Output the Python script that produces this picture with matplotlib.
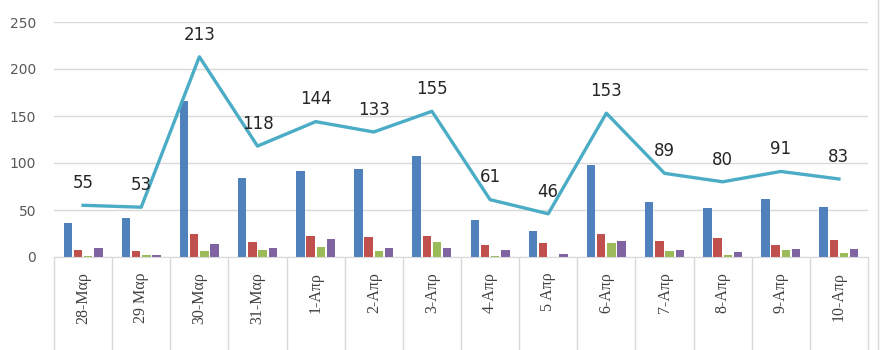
import matplotlib
matplotlib.use("Agg")
import matplotlib.pyplot as plt
import numpy as np
from matplotlib.lines import Line2D

# Ημερομηνίες και τιμές
dates = ["28-Μαρ", "29 Μαρ", "30-Μαρ", "31-Μαρ", "1-Απρ", "2-Απρ", "3-Απρ",
         "4-Απρ", "5 Απρ", "6-Απρ", "7-Απρ", "8-Απρ", "9-Απρ", "10-Απρ"]
blue = [36, 42, 166, 84, 91, 94, 107, 39, 28, 98, 59, 52, 62, 53]
red = [7, 6, 25, 16, 22, 21, 22, 13, 15, 24, 17, 20, 13, 18]
green = [1, 2, 6, 7, 11, 6, 16, 1, 0, 15, 6, 2, 7, 4]
purple = [10, 2, 14, 10, 19, 10, 10, 7, 3, 17, 7, 5, 9, 8]
total = [55, 53, 213, 118, 144, 133, 155, 61, 46, 153, 89, 80, 91, 83]

colors = ["#4F81BD", "#C0504D", "#9BBB59", "#8064A2"]
line_color = "#4BACC6"

fig = plt.figure(figsize=(8.8, 3.5), dpi=100)
ax = fig.add_axes([54 / 880, 93 / 350, 814 / 880, 235 / 350])

x = np.arange(len(dates))
step = 0.175
width = 0.145
for k, (vals, c) in enumerate(zip([blue, red, green, purple], colors)):
    ax.bar(x + (k - 1.5) * step, vals, width=width, color=c, zorder=2)

ax.plot(x, total, color=line_color, linewidth=2.4, zorder=3)
for xi, v in zip(x, total):
    ax.annotate(str(v), (xi, v), xytext=(0, 16), textcoords="offset points",
                ha="center", va="center", fontsize=12, color="#262626")

ax.set_xlim(-0.5, len(dates) - 0.5)
ax.set_ylim(0, 250)
ax.set_yticks(range(0, 251, 50))
ax.tick_params(axis="y", length=0, pad=13, labelsize=10, labelcolor="#595959")
ax.yaxis.grid(True, color="#D9D9D9", linewidth=1)
ax.set_axisbelow(True)

# Ετικέτες ημερομηνιών και διαχωριστικά
ax.set_xticks(x)
ax.set_xticklabels(dates, rotation=90, family="Liberation Serif",
                   fontsize=11.5, color="#404040")
ax.tick_params(axis="x", which="major", length=0, pad=11)
ax.set_xticks(np.arange(-0.5, len(dates)), minor=True)
ax.tick_params(axis="x", which="minor", length=70, color="#D9D9D9", width=1)

for s in ["left", "right", "top"]:
    ax.spines[s].set_visible(False)
ax.spines["bottom"].set_color("#D9D9D9")

fig.add_artist(Line2D([878 / 880, 878 / 880], [0, 1], color="#D9D9D9",
                      linewidth=1, transform=fig.transFigure))

fig.savefig("out.png", dpi=100)
